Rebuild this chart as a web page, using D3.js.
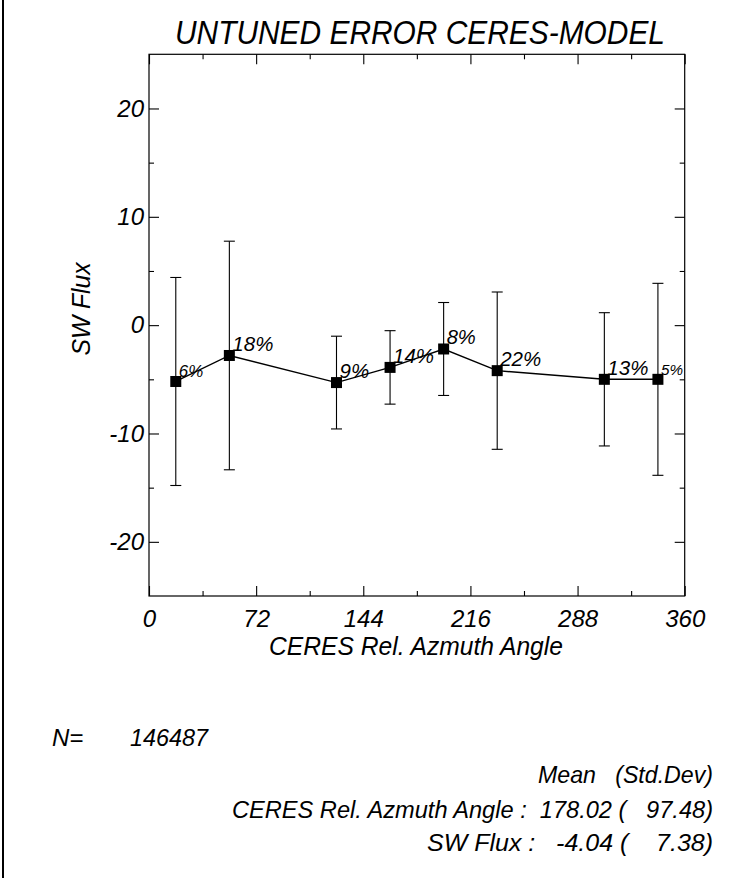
<!DOCTYPE html>
<html>
<head>
<meta charset="utf-8">
<script src="https://cdn.jsdelivr.net/npm/d3@7"></script>
<style>
  html, body { margin: 0; padding: 0; background: #fff; }
  svg { display: block; }
  text { font-family: "Liberation Sans", Arial, Helvetica, sans-serif; font-style: italic; fill: #000; white-space: pre; }
</style>
</head>
<body>
<script>
// ---- data ----
const azimuth   = [18, 54, 126, 162, 198, 234, 306, 342];
const meanFlux  = [-5.2, -2.8, -5.3, -3.9, -2.2, -4.2, -5.0, -5.0];
const stdFlux   = [9.6, 10.55, 4.28, 3.39, 4.29, 7.26, 6.15, 8.86];
const percent   = [6, 18, 9, 14, 8, 22, 13, 5];
const xTicks      = [0, 72, 144, 216, 288, 360];
const xMinorTicks = [36, 108, 180, 252, 324];
const yTicks      = [-20, -10, 0, 10, 20];
const yMinorTicks = [-15, -5, 5, 15];
const titleText = "UNTUNED ERROR CERES-MODEL";
const xLabel = "CERES Rel. Azmuth Angle";
const yLabel = "SW Flux";
const nLabel = "N=";
const nValue = "146487";
const statsLines = [
  "Mean   (Std.Dev)",
  "CERES Rel. Azmuth Angle :  178.02 (   97.48)",
  "SW Flux :   -4.04 (    7.38)"
];

// ---- layout ----
const W = 731, H = 878;
const svg = d3.select("body").append("svg").attr("width", W).attr("height", H);

svg.append("line").attr("x1", 3).attr("x2", 3).attr("y1", 0).attr("y2", H)
  .attr("stroke", "#000").attr("stroke-width", 2);

const x = d3.scaleLinear().domain([0, 360]).range([149, 684.7]);
const y = d3.scaleLinear().domain([-25, 25]).range([596, 54.3]);

const axisFont = 24;
const fmt = d => String(d);

// frame
svg.append("rect")
  .attr("x", x(0)).attr("y", y(25))
  .attr("width", x(360) - x(0)).attr("height", y(-25) - y(25))
  .attr("fill", "none").attr("stroke", "#000").attr("stroke-width", 1.2);

function styleAxis(g) {
  g.select(".domain").remove();
  g.selectAll(".tick line").attr("stroke", "#000").attr("stroke-width", 1.1);
  g.selectAll("text").attr("font-size", axisFont)
    .attr("font-family", "'Liberation Sans', Arial, sans-serif")
    .attr("font-style", "italic").attr("fill", "#000");
}

// bottom
svg.append("g").attr("transform", `translate(0,${y(-25)})`)
  .call(d3.axisBottom(x).tickValues(xTicks).tickSizeInner(-10).tickSizeOuter(0).tickPadding(14).tickFormat(fmt))
  .call(styleAxis);
svg.append("g").attr("transform", `translate(0,${y(-25)})`)
  .call(d3.axisBottom(x).tickValues(xMinorTicks).tickSizeInner(-5).tickSizeOuter(0).tickFormat(""))
  .call(styleAxis);
// top
svg.append("g").attr("transform", `translate(0,${y(25)})`)
  .call(d3.axisTop(x).tickValues(xTicks).tickSizeInner(-10).tickSizeOuter(0).tickFormat(""))
  .call(styleAxis);
svg.append("g").attr("transform", `translate(0,${y(25)})`)
  .call(d3.axisTop(x).tickValues(xMinorTicks).tickSizeInner(-5).tickSizeOuter(0).tickFormat(""))
  .call(styleAxis);
// left
svg.append("g").attr("transform", `translate(${x(0)},0)`)
  .call(d3.axisLeft(y).tickValues(yTicks).tickSizeInner(-10).tickSizeOuter(0).tickPadding(5).tickFormat(fmt))
  .call(styleAxis);
svg.append("g").attr("transform", `translate(${x(0)},0)`)
  .call(d3.axisLeft(y).tickValues(yMinorTicks).tickSizeInner(-5).tickSizeOuter(0).tickFormat(""))
  .call(styleAxis);
// right
svg.append("g").attr("transform", `translate(${x(360)},0)`)
  .call(d3.axisRight(y).tickValues(yTicks).tickSizeInner(-10).tickSizeOuter(0).tickFormat(""))
  .call(styleAxis);
svg.append("g").attr("transform", `translate(${x(360)},0)`)
  .call(d3.axisRight(y).tickValues(yMinorTicks).tickSizeInner(-5).tickSizeOuter(0).tickFormat(""))
  .call(styleAxis);

// title & axis labels
svg.append("text").attr("x", 420).attr("y", 44).attr("text-anchor", "middle")
  .attr("font-size", 33).attr("textLength", 490).attr("lengthAdjust", "spacingAndGlyphs").text(titleText);
svg.append("text").attr("x", 416).attr("y", 655).attr("text-anchor", "middle")
  .attr("font-size", 25).attr("textLength", 294).attr("lengthAdjust", "spacingAndGlyphs").text(xLabel);
svg.append("text").attr("transform", `translate(90,309) rotate(-90)`).attr("text-anchor", "middle")
  .attr("font-size", 25).attr("textLength", 93).attr("lengthAdjust", "spacingAndGlyphs").text(yLabel);

// data
const pts = azimuth.map((a, i) => ({ a, m: meanFlux[i], s: stdFlux[i], p: percent[i] }));
const plot = svg.append("g");

plot.selectAll("line.err").data(pts).join("line").attr("class", "err")
  .attr("x1", d => x(d.a)).attr("x2", d => x(d.a))
  .attr("y1", d => y(d.m + d.s)).attr("y2", d => y(d.m - d.s))
  .attr("stroke", "#000").attr("stroke-width", 1.1);
const capW = 11;
plot.selectAll("line.capTop").data(pts).join("line").attr("class", "capTop")
  .attr("x1", d => x(d.a) - capW / 2).attr("x2", d => x(d.a) + capW / 2)
  .attr("y1", d => y(d.m + d.s)).attr("y2", d => y(d.m + d.s))
  .attr("stroke", "#000").attr("stroke-width", 1.1);
plot.selectAll("line.capBot").data(pts).join("line").attr("class", "capBot")
  .attr("x1", d => x(d.a) - capW / 2).attr("x2", d => x(d.a) + capW / 2)
  .attr("y1", d => y(d.m - d.s)).attr("y2", d => y(d.m - d.s))
  .attr("stroke", "#000").attr("stroke-width", 1.1);

plot.append("path").datum(pts)
  .attr("d", d3.line().x(d => x(d.a)).y(d => y(d.m)))
  .attr("fill", "none").attr("stroke", "#000").attr("stroke-width", 1.4);

const sq = 11;
plot.selectAll("rect.pt").data(pts).join("rect").attr("class", "pt")
  .attr("x", d => x(d.a) - sq / 2).attr("y", d => y(d.m) - sq / 2)
  .attr("width", sq).attr("height", sq).attr("fill", "#000");

plot.selectAll("text.pct").data(pts).join("text").attr("class", "pct")
  .attr("x", d => x(d.a) + 3).attr("y", d => y(d.m) - 4.5)
  .attr("font-size", d => Math.min(20.5, 7 + 1.65 * d.p))
  .text(d => d.p + "%");

// stats text
svg.append("text").attr("x", 52).attr("y", 746).attr("font-size", 24).text(nLabel);
svg.append("text").attr("x", 130).attr("y", 746).attr("font-size", 24).attr("textLength", 78).attr("lengthAdjust", "spacingAndGlyphs").text(nValue);
const statY = [783, 818, 851];
const statLen = [175, 481, 286];
statsLines.forEach((s, i) => {
  svg.append("text").attr("x", 713).attr("y", statY[i]).attr("text-anchor", "end")
    .attr("font-size", 24).attr("textLength", statLen[i]).attr("lengthAdjust", "spacingAndGlyphs").text(s);
});
</script>
</body>
</html>
